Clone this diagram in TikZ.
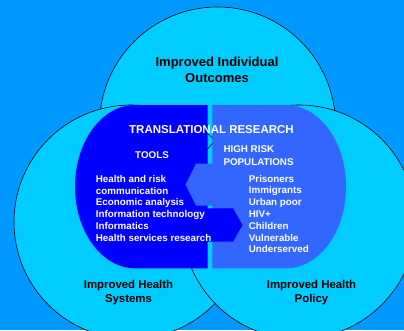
\documentclass[tikz,border=0pt]{standalone}
\usepackage{fontspec}
\setmainfont{Liberation Sans}
\usepackage{xcolor}
\usepackage{tikz}
\definecolor{bgblue}{RGB}{0,153,255}
\definecolor{ringcyan}{RGB}{0,204,255}
\definecolor{toolblue}{RGB}{0,0,255}
\definecolor{popblue}{RGB}{51,102,255}

\begin{document}
\begin{tikzpicture}[x=1pt,y=-1pt,
		ring/.style={fill=ringcyan,draw=black,line width=0.6pt},
		bodytext/.style={text=white,inner sep=0pt,align=left,font=\bfseries\fontsize{9.8}{11.8}\selectfont},
		ringlabel/.style={text=black,inner sep=0pt,align=center,font=\bfseries\fontsize{11.4}{13.7}\selectfont}]
			\fill [bgblue] (0,0) rectangle (404,330);
			\useasboundingbox (0,0) rectangle (404,330);
			\clip (0,0) rectangle (404,330);
			\draw [ring] (217.5,125) circle (118);
			\draw [ring] (131,222) circle (117);
			\draw [ring] (299,222) circle (117);
			\fill [toolblue] (207.7,105) -- (135,105) arc [start angle=270, end angle=90, x radius=60, y radius=81.65] -- (207.7,268.3) -- cycle;
			\fill [popblue] (212.3,105) -- (286,105) arc [start angle=-90, end angle=90, x radius=60, y radius=81.65] -- (212.3,268.3) -- cycle;
			\fill [popblue] (213,163.5) -- (196,163.5) -- (185.5,184.5) -- (196,205.5) -- (213,205.5) -- cycle;
			\fill [toolblue] (207,208.3) -- (233,208.3) -- (242.5,225) -- (233,241.7) -- (207,241.7) -- cycle;
			\node (outcomes) [ringlabel,font=\bfseries\fontsize{13}{16}\selectfont] at (217,69.7) {Improved Individual\\Outcomes};
			\node (systems) [ringlabel] at (128.5,292.2) {Improved Health\\Systems};
			\node (policy) [ringlabel] at (311.5,292.2) {Improved Health\\Policy};
			\node (title) [bodytext,font=\bfseries\fontsize{11.5}{13}\selectfont] at (211.5,130) {TRANSLATIONAL RESEARCH};
			\node (tools) [bodytext] at (152,155) {TOOLS};
			\node (highrisk) [bodytext,anchor=west,font=\bfseries\fontsize{9.8}{12.4}\selectfont] at (223.3,155.5) {HIGH RISK\\POPULATIONS};
			\node (toollist) [bodytext,anchor=west] at (95.7,208.2) {Health and risk\\communication\\Economic analysis\\Information technology\\Informatics\\Health services research};
			\node (poplist) [bodytext,anchor=west] at (248.7,214) {Prisoners\\Immigrants\\Urban poor\\HIV+\\Children\\Vulnerable\\Underserved};
		\end{tikzpicture}
\end{document}
